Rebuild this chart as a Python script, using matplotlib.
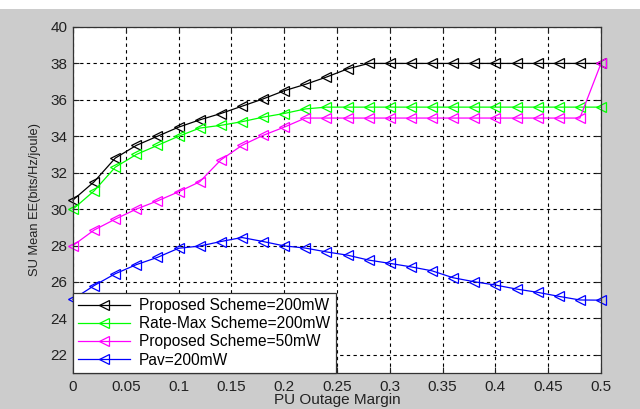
import numpy as np
import matplotlib.pyplot as plt
from matplotlib.patches import Rectangle

plt.rcParams['font.family'] = ['Liberation Sans', 'DejaVu Sans']

# PU outage margin, step 0.02
margin = [0.00, 0.02, 0.04, 0.06, 0.08, 0.10, 0.12, 0.14, 0.16, 0.18, 0.20, 0.22, 0.24,
          0.26, 0.28, 0.30, 0.32, 0.34, 0.36, 0.38, 0.40, 0.42, 0.44, 0.46, 0.48, 0.50]

# SU mean EE values
proposed_200 = [30.5, 31.5, 32.8, 33.5, 34.0, 34.5, 34.9, 35.25, 35.65, 36.05, 36.5, 36.85, 37.25,
                37.7, 38.0, 38.0, 38.0, 38.0, 38.0, 38.0, 38.0, 38.0, 38.0, 38.0, 38.0, 38.0]
ratemax_200 = [30.0, 31.0, 32.3, 33.0, 33.5, 34.0, 34.45, 34.6, 34.8, 35.05, 35.25, 35.5, 35.6,
               35.6, 35.6, 35.6, 35.6, 35.6, 35.6, 35.6, 35.6, 35.6, 35.6, 35.6, 35.6, 35.6]
proposed_50 = [28.0, 28.85, 29.45, 30.0, 30.45, 30.95, 31.5, 32.7, 33.5, 34.05, 34.5, 35.0, 35.0,
               35.0, 35.0, 35.0, 35.0, 35.0, 35.0, 35.0, 35.0, 35.0, 35.0, 35.0, 35.0, 38.0]
pav_200 = [25.05, 25.8, 26.45, 26.95, 27.35, 27.85, 27.97, 28.22, 28.44, 28.22, 27.98, 27.86, 27.65,
           27.47, 27.2, 27.02, 26.83, 26.61, 26.23, 26.01, 25.83, 25.61, 25.43, 25.21, 25.01, 25.0]

series = [
    (proposed_200, 'Proposed Scheme=200mW', 'black'),
    (ratemax_200, 'Rate-Max Scheme=200mW', '#00ff00'),
    (proposed_50, 'Proposed Scheme=50mW', '#ff00ff'),
    (pav_200, 'Pav=200mW', '#0000ff'),
]

fig = plt.figure(figsize=(6.4, 4.09), dpi=100, facecolor='#cccccc')
# white strip on top of the screenshot
fig.patches.append(Rectangle((0, 1 - 9 / 409), 1, 9 / 409, transform=fig.transFigure,
                             facecolor='white', edgecolor='none', zorder=0))
ax = fig.add_axes([73 / 640, 1 - 373 / 409, 528 / 640, 346 / 409])

for y, lab, col in series:
    ax.plot(margin, y, color=col, lw=0.9, marker='<', markersize=7,
            markerfacecolor='none', markeredgewidth=0.9, label=lab, clip_on=False)

ax.set_xlim(0, 0.5)
ax.set_ylim(21, 40)
ax.set_xticks(np.arange(0, 0.51, 0.05))
ax.set_xticklabels(['0', '0.05', '0.1', '0.15', '0.2', '0.25', '0.3', '0.35', '0.4', '0.45', '0.5'])
ax.set_yticks(np.arange(22, 41, 2))
ax.tick_params(direction='in', length=4, width=0.8, top=True, right=True,
               labelsize=11, colors='#222222')
ax.tick_params(axis='x', pad=5)
ax.tick_params(axis='y', pad=4)
ax.grid(True, color='black', linestyle=(0, (3, 3)), linewidth=0.8)
for s in ax.spines.values():
    s.set_color('#333333')
    s.set_linewidth(0.9)

ax.set_xlabel('PU Outage Margin', fontsize=11, color='#222222', labelpad=-1)
ax.set_ylabel('SU Mean EE(bits/Hz/joule)', fontsize=9.3, color='#222222', labelpad=7)

leg = ax.legend(loc='lower left', borderaxespad=0, fontsize=11.2, numpoints=1,
                fancybox=False, framealpha=1, edgecolor='#333333', handlelength=3.3,
                handletextpad=0.6, labelspacing=0.2, borderpad=0.35)
leg.get_frame().set_linewidth(0.9)

fig.savefig('out.png', dpi=100, facecolor=fig.get_facecolor())
